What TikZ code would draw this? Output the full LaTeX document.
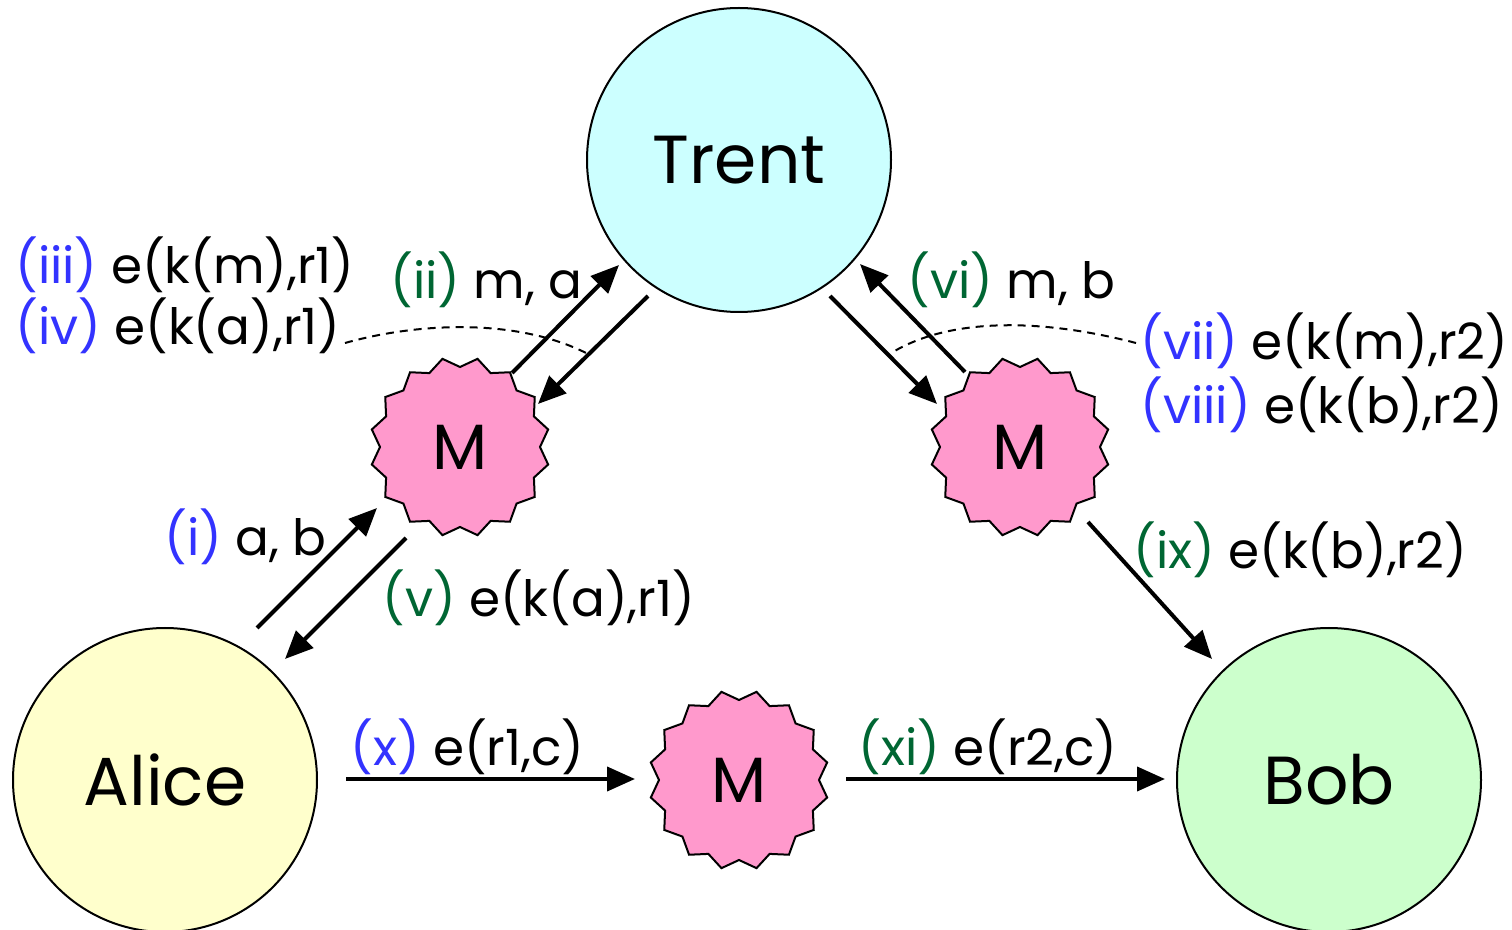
\documentclass[tikz,border=0pt]{standalone}
\usepackage{fontspec}
\setmainfont{Poppins}
\usetikzlibrary{shapes.geometric,arrows.meta}
\definecolor{lblue}{HTML}{3333FF}
\definecolor{dgreen}{HTML}{006633}
\definecolor{trentfill}{HTML}{CCFFFF}
\definecolor{alicefill}{HTML}{FFFFCC}
\definecolor{bobfill}{HTML}{CCFFCC}
\definecolor{mfill}{HTML}{FF99CC}
\tikzset{
  party/.style={circle,draw=black,line width=1pt,minimum size=152pt,inner sep=0pt,font=\fontsize{34}{40}\selectfont},
  mallory/.style={star,star points=16,star point ratio=0.89,draw=black,line width=1pt,fill=mfill,minimum size=80pt,inner sep=0pt,font=\fontsize{32}{40}\selectfont},
  msg/.style={line width=2pt,-{Triangle[length=14pt,width=12pt]}},
  lbl/.style={anchor=west,inner sep=0pt,font=\fontsize{25}{30}\selectfont},
  dline/.style={line width=1pt,dash pattern=on 4pt off 3pt}
}
\begin{document}
\begin{tikzpicture}[x=0.5pt,y=-0.5pt]
\useasboundingbox (0,0) rectangle (1512,930);
% parties
\node[party,fill=trentfill] (trent) at (739,160) {Trent};
\node[party,fill=alicefill] (alice) at (165,780) {Alice};
\node[party,fill=bobfill] (bob) at (1329,780) {Bob};
\node[mallory] (m1) at (460,447) {M};
\node[mallory] (m2) at (1020,447) {M};
\node[mallory] (m3) at (739,780) {M};
% arrow end points
\coordinate (i1) at (257,628);   \coordinate (i2) at (377,508);
\coordinate (v1) at (406,538);   \coordinate (v2) at (285,659);
\coordinate (ii1) at (512,373);  \coordinate (ii2) at (619,265);
\coordinate (td1) at (648,296);  \coordinate (td2) at (538,404);
\coordinate (vi1) at (965,372);  \coordinate (vi2) at (860,264);
\coordinate (tm1) at (830,296);  \coordinate (tm2) at (937,404);
\coordinate (ix1) at (1088,522); \coordinate (ix2) at (1212,659);
\coordinate (x1) at (346,779);   \coordinate (x2) at (635,779);
\coordinate (xi1) at (846,779);  \coordinate (xi2) at (1165,779);
\draw[msg] (i1) -- (i2);
\draw[msg] (v1) -- (v2);
\draw[msg] (ii1) -- (ii2);
\draw[msg] (td1) -- (td2);
\draw[msg] (vi1) -- (vi2);
\draw[msg] (tm1) -- (tm2);
\draw[msg] (ix1) -- (ix2);
\draw[msg] (x1) -- (x2);
\draw[msg] (xi1) -- (xi2);
% labels
\node[lbl] (l3) at (15,265) {\textcolor{lblue}{(iii)} e(k(m),r1)};
\node[lbl] (l4) at (15,326) {\textcolor{lblue}{(iv)} e(k(a),r1)};
\node[lbl] (l2) at (390,280) {\textcolor{dgreen}{(ii)} m, a};
\node[lbl] (l6) at (907,280) {\textcolor{dgreen}{(vi)} m, b};
\node[lbl] (l7) at (1140,341) {\textcolor{lblue}{(vii)} e(k(m),r2)};
\node[lbl] (l8) at (1140,405) {\textcolor{lblue}{(viii)} e(k(b),r2)};
\node[lbl] (l1) at (164,537) {\textcolor{lblue}{(i)} a, b};
\node[lbl] (l5) at (382,598) {\textcolor{dgreen}{(v)} e(k(a),r1)};
\node[lbl] (l9) at (1133,550) {\textcolor{dgreen}{(ix)} e(k(b),r2)};
\node[lbl] (l10) at (350,747) {\textcolor{lblue}{(x)} e(r1,c)};
\node[lbl] (l11) at (858,747) {\textcolor{dgreen}{(xi)} e(r2,c)};
% dashed callouts
\coordinate (dl0) at (345,343);
\coordinate (dl) at (590,355);
\coordinate (dr0) at (1136,343);
\coordinate (dr) at (893,352);
\draw[dline] (dl0) .. controls (420,322) and (520,318) .. (dl);
\draw[dline] (dr0) .. controls (1040,318) and (950,318) .. (dr);
\end{tikzpicture}
\end{document}
